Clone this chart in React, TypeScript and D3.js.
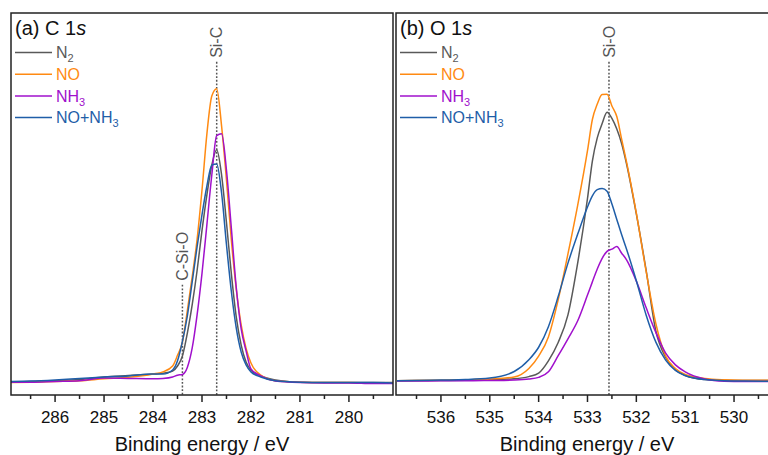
import React from 'react';
import * as d3 from 'd3';

// C 1s region
const c1sEnergy = [286.9, 286.5, 286.0, 285.5, 285.0, 284.5, 284.0, 283.8, 283.6, 283.5, 283.4, 283.3, 283.2, 283.1, 283.0,
  282.9, 282.8, 282.7, 282.6, 282.5, 282.4, 282.3, 282.2, 282.1, 282.0, 281.8, 281.5, 281.0, 280.5, 280.0, 279.5, 279.1];
const c1sN2 = [-0.5, -0.3, -0.1, 0.2, 0.9, 1.3, 1.7, 1.9, 2.5, 3.9, 6.6, 12.8, 20.6, 29.9, 40.8,
  50.5, 58.6, 62.8, 55.9, 42.9, 28.9, 17.2, 9.6, 5.0, 2.8, 1.2, 0.1, -0.5, -0.6, -0.6, -0.6, -0.6];
const c1sNO = [-0.6, -0.5, -0.3, -0.1, 0.4, 0.8, 1.7, 2.3, 3.9, 6.8, 10.4, 18.9, 28.2, 38.4, 51.8,
  67.1, 77.4, 79.4, 69.2, 54.5, 38.0, 24.8, 15.1, 8.7, 4.7, 1.4, -0.1, -0.5, -0.6, -0.6, -0.7, -0.7];
const c1sNH3 = [-0.5, -0.5, -0.3, -0.1, 0.6, 0.5, 0.4, 0.5, 0.9, 1.4, 1.6, 3.5, 8.8, 17.8, 29.1,
  42.4, 55.9, 66.6, 67.1, 57.2, 41.3, 25.2, 14.0, 8.0, 3.1, 1.2, -0.2, -0.6, -0.7, -0.7, -0.9, -0.9];
const c1sNONH3 = [-0.3, -0.2, 0.1, 0.5, 0.9, 1.2, 1.7, 1.7, 2.8, 5.3, 10.6, 17.5, 26.8, 36.4, 45.1,
  52.9, 58.6, 58.9, 51.0, 36.9, 24.1, 14.2, 7.7, 4.2, 2.3, 0.9, -0.1, -0.5, -0.6, -0.6, -0.6, -0.7];

// O 1s region
const o1sEnergy = [536.9, 536.5, 536.0, 535.5, 535.0, 534.5, 534.2, 534.0, 533.8, 533.6, 533.4, 533.2, 533.0,
  532.9, 532.8, 532.7, 532.6, 532.5, 532.4, 532.3, 532.2, 532.0, 531.8, 531.6, 531.4, 531.2, 531.0,
  530.6, 530.2, 529.8, 529.4, 529.1];
const o1sN2 = [-0.14, -0.08, -0.05, 0.03, 0.16, 0.4, 1.0, 1.95, 5.3, 10.3, 17.8, 32.0, 49.5,
  59.7, 66.0, 69.9, 73.0, 71.3, 68.4, 64.4, 58.9, 45.3, 30.0, 13.4, 6.2, 2.8, 1.3,
  0.2, 0, -0.05, -0.05, -0.08];
const o1sNO = [-0.1, -0.05, 0, 0.14, 0.35, 0.9, 3.2, 6.6, 11.8, 21.9, 34.4, 47.7, 62.5,
  71.0, 75.2, 77.8, 77.9, 74.7, 71.8, 65.6, 59.4, 45.5, 29.7, 15.4, 6.6, 3.2, 1.6,
  0.5, 0.14, 0.03, 0, -0.05];
const o1sNH3 = [-0.2, -0.2, -0.14, -0.14, -0.05, 0.08, 0.35, 0.8, 2.3, 6.7, 11.3, 16.2, 23.2,
  26.8, 30.3, 33.2, 35.1, 35.7, 36.4, 34.6, 32.8, 27.0, 19.8, 13.0, 7.4, 4.2, 2.3,
  0.35, -0.25, -0.33, -0.33, -0.33];
const o1sNONH3 = [-0.1, -0.05, 0.08, 0.2, 0.6, 2.4, 5.6, 9.0, 14.6, 22.8, 31.9, 39.8, 47.2,
  50.2, 51.9, 52.2, 51.5, 48.0, 43.8, 39.6, 35.7, 27.1, 17.8, 10.4, 5.5, 2.7, 1.3,
  0.2, -0.1, -0.2, -0.25, -0.25];

const seriesNames = [['N', '2'], ['NO', ''], ['NH', '3'], ['NO+NH', '3']];
const seriesColors = ['#595959', '#ff8a12', '#a010cc', '#1f5ea8'];

const c1sTicks = [286, 285, 284, 283, 282, 281, 280];
const o1sTicks = [536, 535, 534, 533, 532, 531, 530];

// peak markers: label, energy, top of the dotted line in intensity units
const c1sPeaks = [{ label: 'Si-C', energy: 282.7, top: 86.7 }, { label: 'C-Si-O', energy: 283.4, top: 26 }];
const o1sPeaks = [{ label: 'Si-O', energy: 532.56, top: 86.7 }];

const font = '"Liberation Sans", Arial, sans-serif';
const top = 13, bottom = 395;

const yScale = d3.scaleLinear().domain([-4, 100]).range([bottom, top]);

const Panel = ({ id, left, right, domain, energy, series, ticks, tag, element, peaks }) => {
  const x = d3.scaleLinear().domain(domain).range([left, right]);
  const line = d3.line<number>()
    .x((d, i) => x(energy[i]))
    .y(d => yScale(d))
    .curve(d3.curveMonotoneX);
  const minor = d3.range(Math.ceil(domain[1] * 2) / 2, domain[0], 0.5).filter(v => v % 1 !== 0);

  return (
    <g fontFamily={font}>
      <defs>
        <clipPath id={`clip-${id}`}>
          <rect x={left} y={top} width={right - left} height={bottom - top} />
        </clipPath>
      </defs>
      {peaks.map(p => (
        <g key={p.label}>
          <line x1={x(p.energy)} x2={x(p.energy)} y1={yScale(p.top)} y2={bottom}
            stroke="#555" strokeWidth={1.5} strokeDasharray="1.8,1.8" />
          <text transform={`translate(${x(p.energy)},${yScale(p.top) - 4}) rotate(-90)`}
            dy="0.35em" fontSize={16} fill="#555">{p.label}</text>
        </g>
      ))}
      <g clipPath={`url(#clip-${id})`}>
        {series.map((s, i) => (
          <path key={i} d={line(s)} fill="none" stroke={seriesColors[i]} strokeWidth={1.5} strokeLinejoin="round" />
        ))}
      </g>
      <rect x={left} y={top} width={right - left} height={bottom - top} fill="none" stroke="#222" strokeWidth={1.5} />
      {ticks.map(t => (
        <g key={t}>
          <line x1={x(t)} x2={x(t)} y1={bottom} y2={bottom + 7} stroke="#222" strokeWidth={1.5} />
          <text x={x(t)} y={423} textAnchor="middle" fontSize={17} fill="#111">{t}</text>
        </g>
      ))}
      {minor.map(t => (
        <line key={t} x1={x(t)} x2={x(t)} y1={bottom} y2={bottom + 4} stroke="#222" strokeWidth={1.5} />
      ))}
      <text x={(left + right) / 2} y={451} textAnchor="middle" fontSize={20} fill="#111">Binding energy / eV</text>
      <text x={left + 4} y={35} fontSize={20} fill="#111">
        {`${tag} ${element} 1`}<tspan fontStyle="italic">s</tspan>
      </text>
      {seriesNames.map(([name, sub], i) => {
        const y = 52.5 + i * 21.7;
        return (
          <g key={i}>
            <line x1={left + 4} x2={left + 41} y1={y} y2={y} stroke={seriesColors[i]} strokeWidth={1.5} />
            <text x={left + 45} y={y + 5.8} fontSize={16} fill={seriesColors[i]}>
              {name}
              {sub && <tspan fontSize={11} dy={4}>{sub}</tspan>}
            </text>
          </g>
        );
      })}
    </g>
  );
};

export default function App() {
  return (
    <svg width={768} height={455} style={{ position: 'absolute', left: 0, top: 0, display: 'block', background: '#fff' }}>
      <Panel id="c1s" left={11} right={393} domain={[286.9, 279.1]} energy={c1sEnergy}
        series={[c1sN2, c1sNO, c1sNH3, c1sNONH3]} ticks={c1sTicks} tag="(a)" element="C" peaks={c1sPeaks} />
      <Panel id="o1s" left={396} right={778} domain={[536.92, 529.1]} energy={o1sEnergy}
        series={[o1sN2, o1sNO, o1sNH3, o1sNONH3]} ticks={o1sTicks} tag="(b)" element="O" peaks={o1sPeaks} />
    </svg>
  );
}
